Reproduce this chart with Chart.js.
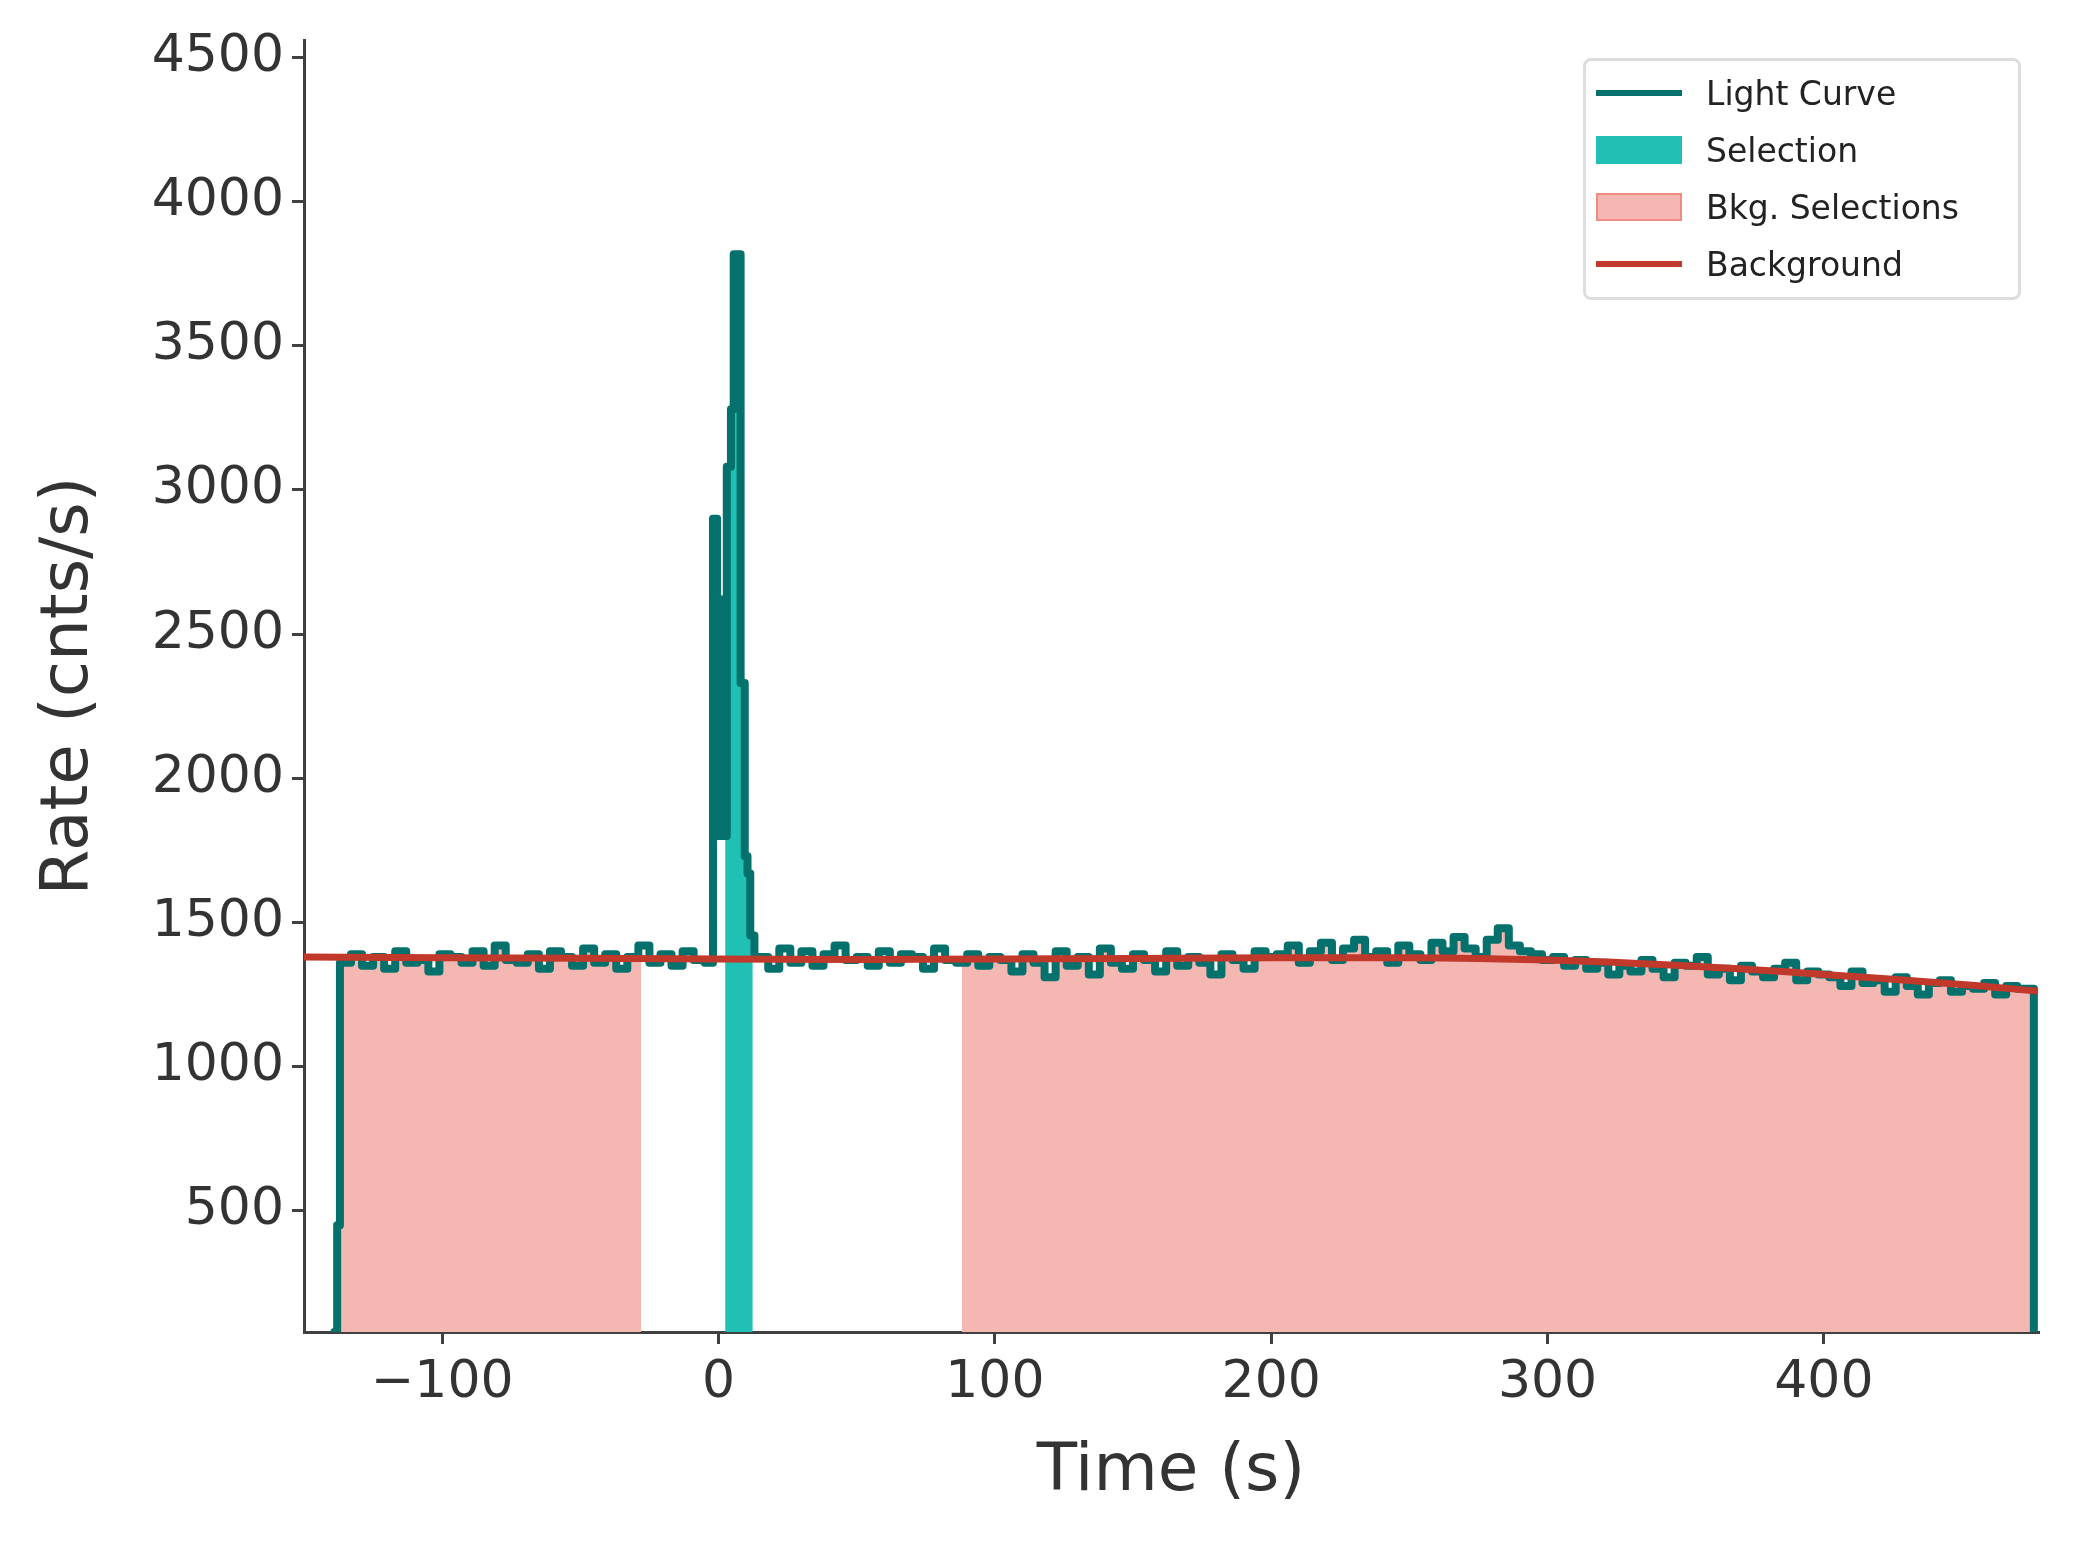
<!DOCTYPE html>
<html><head><meta charset="utf-8">
<script src="https://cdn.jsdelivr.net/npm/chart.js@4.4.1/dist/chart.umd.min.js"></script>
<style>
html,body{margin:0;padding:0;background:#fff;}
#wrap{position:relative;width:2074px;height:1544px;}
#legend{position:absolute;left:1583px;top:58px;width:438px;height:242px;border:3px solid #ddd;border-radius:8px;background:rgba(255,255,255,0.85);font-family:"DejaVu Sans";font-size:33px;color:#222;box-sizing:border-box;}
.row{position:absolute;left:10px;height:40px;display:flex;align-items:center;}
.sw{width:86px;margin-right:24px;}
</style></head><body>
<div id="wrap"><canvas id="c" width="2074" height="1544"></canvas>
<div id="legend">
<div class="row" style="top:12px"><div class="sw" style="height:6px;background:#05716c"></div>Light Curve</div>
<div class="row" style="top:69px"><div class="sw" style="height:28px;background:#20c0b4"></div>Selection</div>
<div class="row" style="top:126px"><div class="sw" style="height:28px;background:#f4b6b1;border:2px solid #f08c84;box-sizing:border-box"></div>Bkg. Selections</div>
<div class="row" style="top:183px"><div class="sw" style="height:6px;background:#c0392b"></div>Background</div>
</div></div>
<script>
const preStart = -138, binWidth = 4;
const preValues = [1360,1390,1350,1380,1340,1400,1360,1370,1330,1390,1380,1360,1400,1350,1420,1370,1360,1390,1340,1400,1380,1350,1410,1360,1390,1340,1380,1420,1360,1390,1350,1400,1370,1360];
const peakTimes = [-2,-0.5,0.5,1.5,3,4.5,5.5,8,9.5,10.5,11.5,13];
const peakValues = [2900,1800,2620,1800,3080,3280,3817,2330,1730,1670,1455,1380];
const postStart = 14;
const postValues = [1380,1340,1410,1360,1400,1350,1390,1420,1370,1380,1350,1400,1360,1390,1380,1340,1410,1370,1360,1390,1350,1380,
1370,1330,1390,1360,1310,1400,1350,1380,1320,1410,1360,1340,1390,1370,1330,1400,1350,1380,1360,1320,1390,1370,1340,1400,1380,
1390,1420,1360,1400,1430,1370,1410,1440,1380,1400,1360,1420,1390,1370,1430,1400,1450,1410,1380,1440,1480,1420,1400,1390,1370,
1380,1350,1370,1340,1360,1320,1350,1330,1370,1340,1310,1360,1350,1380,1320,1340,1300,1350,1330,1310,1340,1360,1300,1330,1320,
1310,1280,1330,1290,1300,1260,1310,1280,1250,1290,1300,1260,1280,1270,1290,1250,1280,1270];
const endTime = 476;
const bgTimes = [-150,-50,50,150,250,300,350,400,450,477.5];
const bgValues = [1380,1376,1372,1375,1378,1370,1350,1320,1285,1262];
const selRange = [2.4,12.4];
const bkgRanges = [[-137,-28],[88,476]];
const xTicks = [-100,0,100,200,300,400];
const yTicks = [500,1000,1500,2000,2500,3000,3500,4000,4500];
const Y0 = 80;

const lc = [{x:-139,y:Y0},{x:preStart,y:450}];
preValues.forEach((v,i)=>lc.push({x:preStart+1+i*binWidth,y:v}));
peakTimes.forEach((t,i)=>lc.push({x:t,y:peakValues[i]}));
postValues.forEach((v,i)=>lc.push({x:postStart+i*binWidth,y:v}));
lc.push({x:endTime,y:Y0});
function clip(a,b){
  let out=[];let cur=null;
  for(const p of lc){ if(p.x<=a) cur=p.y; else if(p.x<b){ if(!out.length) out.push({x:a,y:cur}); out.push(p);} }
  if(!out.length) out.push({x:a,y:cur});
  out.push({x:b,y:out[out.length-1].y});
  return out;
}
const ds=[];
bkgRanges.forEach(r=>ds.push({order:4,data:clip(r[0],r[1]),stepped:'before',fill:'start',backgroundColor:'#f5b7b2',borderColor:'#f08c84',borderWidth:2,pointRadius:0}));
ds.push({order:3,data:clip(selRange[0],selRange[1]),stepped:'before',fill:'start',backgroundColor:'#20c0b4',borderWidth:0,pointRadius:0});
ds.push({order:2,data:lc,stepped:'before',fill:false,borderColor:'#05716c',borderWidth:8,pointRadius:0,borderCapStyle:'round',borderJoinStyle:'round'});
ds.push({order:1,data:bgTimes.map((t,i)=>({x:t,y:bgValues[i]})),tension:0.4,fill:false,borderColor:'#c0392b',borderWidth:7,pointRadius:0});

const tickFont={family:'DejaVu Sans',size:52};
const titleFont={family:'DejaVu Sans',size:66};
const grid={drawOnChartArea:false,drawTicks:true,tickLength:12,color:'#404040',lineWidth:3};
new Chart(document.getElementById('c'),{type:'line',data:{datasets:ds},
options:{responsive:false,animation:false,layout:{padding:{top:40,right:36,left:0,bottom:0}},
plugins:{legend:{display:false},tooltip:{enabled:false}},
scales:{
x:{type:'linear',min:-150,max:477.5,grid:grid,border:{color:'#404040',width:3},
 ticks:{color:'#333',font:tickFont,padding:8,callback:v=>String(v).replace('-','\u2212')},
 afterBuildTicks:s=>{s.ticks=xTicks.map(v=>({value:v}))},afterFit:s=>{s.height=212},
 title:{display:true,text:'Time (s)',color:'#333',font:titleFont,padding:{top:4,bottom:32}}},
y:{type:'linear',min:Y0,max:4560,grid:grid,border:{color:'#404040',width:3},
 ticks:{color:'#333',font:tickFont,padding:8,callback:v=>String(v)},
 afterBuildTicks:s=>{s.ticks=yTicks.map(v=>({value:v}))},afterFit:s=>{s.width=304},
 title:{display:true,text:'Rate (cnts/s)',color:'#333',font:titleFont,padding:{top:30,bottom:8}}}
}}});
</script></body></html>
